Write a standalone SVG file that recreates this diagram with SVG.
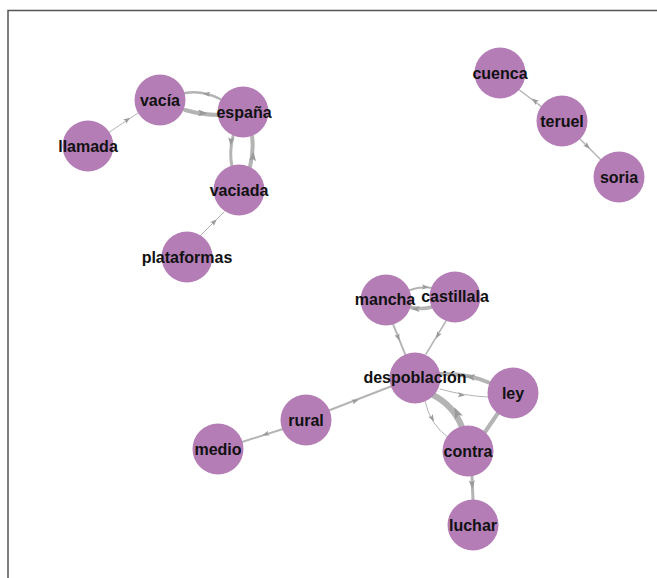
<svg xmlns="http://www.w3.org/2000/svg" width="657" height="578" viewBox="0 0 657 578">
<style>
.e{fill:none;stroke:#b4b4b4;stroke-linecap:round}
.n circle{fill:#b47db6}
.n text{font-family:"Liberation Sans",Arial,sans-serif;font-weight:bold;font-size:16px;fill:#111;text-anchor:middle}
.ah{fill:#9a9a9a}
</style>
<defs>
<polygon id="ah" points="4,0 -3,-2.6 -1.5,0 -3,2.6"/>
</defs>
<rect x="0" y="0" width="657" height="578" fill="#fff"/>
<g id="frame" stroke="#555" stroke-width="1.5" fill="none">
<path d="M8,578 V10.5 H657"/>
</g>
<g id="connectors">
<path class="e" stroke-width="1" d="M108,133 L138,113"/>
<path class="e" stroke-width="2.5" d="M185,93 Q203,90 220,99"/>
<path class="e" stroke-width="4" d="M185,110 Q202,115 219,115"/>
<path class="e" stroke-width="3" d="M233,136 Q229,152 232,167"/>
<path class="e" stroke-width="4" d="M250,167 Q254,150 252,136"/>
<path class="e" stroke-width="1" d="M200,236 L224,212"/>
<path class="e" stroke-width="1.5" d="M518,89 L542,107"/>
<path class="e" stroke-width="1.5" d="M579,138 L601,160"/>
<path class="e" stroke-width="2" d="M410,290 Q421,286 432,288"/>
<path class="e" stroke-width="3.5" d="M432,307 Q421,310 409,307"/>
<path class="e" stroke-width="2" d="M393,324 L405,354"/>
<path class="e" stroke-width="1.5" d="M446,321 L426,354"/>
<path class="e" stroke-width="2" d="M330,410 L392,386"/>
<path class="e" stroke-width="2" d="M283,429 L242,442"/>
<path class="e" stroke-width="4" d="M490,383 Q468,373 440,374"/>
<path class="e" stroke-width="1" d="M440,389 Q465,396 488,397"/>
<path class="e" stroke-width="6" d="M462,427 Q453,405 433,395"/>
<path class="e" stroke-width="1" d="M425,401 Q430,425 449,438"/>
<path class="e" stroke-width="4" d="M498,413 L485,432"/>
<path class="e" stroke-width="3" d="M472,476 L473,500"/>
<g class="ah">
<use href="#ah" transform="translate(127,120) rotate(-34)"/>
<use href="#ah" transform="translate(207,94) rotate(185)"/>
<use href="#ah" transform="translate(202,113) rotate(3) scale(1.3)"/>
<use href="#ah" transform="translate(231,141) rotate(95) scale(1.2)"/>
<use href="#ah" transform="translate(253,157) rotate(-85) scale(1.3)"/>
<use href="#ah" transform="translate(214,222) rotate(-45)"/>
<use href="#ah" transform="translate(535,101) rotate(217)"/>
<use href="#ah" transform="translate(587,146) rotate(45)"/>
<use href="#ah" transform="translate(425,287) rotate(3)"/>
<use href="#ah" transform="translate(416,309) rotate(180) scale(1.2)"/>
<use href="#ah" transform="translate(398,337) rotate(68)"/>
<use href="#ah" transform="translate(438,335) rotate(121)"/>
<use href="#ah" transform="translate(355,401) rotate(-21)"/>
<use href="#ah" transform="translate(266,434) rotate(163)"/>
<use href="#ah" transform="translate(471,377) rotate(190) scale(1.3)"/>
<use href="#ah" transform="translate(461,395) rotate(8)"/>
<use href="#ah" transform="translate(457,413) rotate(-115) scale(1.6)"/>
<use href="#ah" transform="translate(432,418) rotate(60)"/>
<use href="#ah" transform="translate(472,484) rotate(88) scale(1.2)"/>
</g>
</g>
<g id="n-vacia" class="n"><circle cx="160" cy="100" r="25.5"/><text x="160" y="105.5">vacía</text></g>
<g id="n-espana" class="n"><circle cx="243" cy="112" r="25.5"/><text x="244" y="117.5">españa</text></g>
<g id="n-llamada" class="n"><circle cx="88" cy="146" r="25.5"/><text x="88" y="151.5">llamada</text></g>
<g id="n-vaciada" class="n"><circle cx="239" cy="190" r="25.5"/><text x="239" y="195.5">vaciada</text></g>
<g id="n-plataformas" class="n"><circle cx="187" cy="257" r="25.5"/><text x="187" y="262.5">plataformas</text></g>
<g id="n-cuenca" class="n"><circle cx="500" cy="73" r="25.5"/><text x="500" y="78.5">cuenca</text></g>
<g id="n-teruel" class="n"><circle cx="562" cy="121" r="25.5"/><text x="562" y="126.5">teruel</text></g>
<g id="n-soria" class="n"><circle cx="619" cy="177" r="25.5"/><text x="619" y="182.5">soria</text></g>
<g id="n-mancha" class="n"><circle cx="386" cy="300" r="25.5"/><text x="385" y="305">mancha</text></g>
<g id="n-castillala" class="n"><circle cx="455" cy="297" r="25.5"/><text x="455" y="302">castillala</text></g>
<g id="n-despoblacion" class="n"><circle cx="415" cy="378" r="25.5"/><text x="415" y="383">despoblación</text></g>
<g id="n-ley" class="n"><circle cx="513" cy="393" r="25.5"/><text x="513" y="398.5">ley</text></g>
<g id="n-rural" class="n"><circle cx="306" cy="420" r="25.5"/><text x="306" y="425.5">rural</text></g>
<g id="n-medio" class="n"><circle cx="218" cy="449" r="25.5"/><text x="218" y="454.5">medio</text></g>
<g id="n-contra" class="n"><circle cx="468" cy="451" r="25.5"/><text x="468" y="456.5">contra</text></g>
<g id="n-luchar" class="n"><circle cx="473" cy="525" r="25.5"/><text x="473" y="530.5">luchar</text></g>
</svg>
